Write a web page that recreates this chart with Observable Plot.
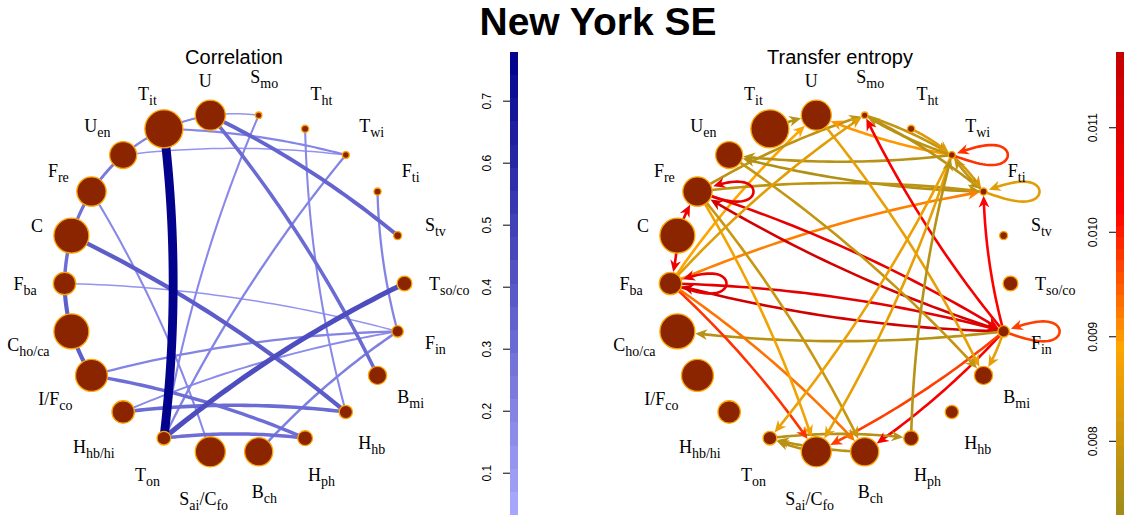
<!DOCTYPE html>
<html><head><meta charset="utf-8">
<script src="https://cdn.jsdelivr.net/npm/d3@7"></script>
<script src="https://cdn.jsdelivr.net/npm/@observablehq/plot@0.6"></script>
<style>
body{margin:0;background:#fff;}
#wrap{position:relative;width:1126px;height:517px;overflow:hidden;background:#fff;font-family:"Liberation Sans",Arial,sans-serif;}
.ttl{position:absolute;text-align:center;white-space:nowrap;line-height:1;color:#000;}
</style></head><body><div id="wrap"></div><script>
// ---------------- data ----------------
const nodeKeys = ["Tso","Stv","Fti","Twi","Tht","Smo","U","Tit","Uen","Fre","C","Fba","Cho","IFco","Hhbhi","Ton","Saifo","Bch","Hph","Hhb","Bmi","Fin"];
const nodeLabels = ["T_{so/co}","S_{tv}","F_{ti}","T_{wi}","T_{ht}","S_{mo}","U","T_{it}","U_{en}","F_{re}","C","F_{ba}","C_{ho/ca}","I/F_{co}","H_{hb/hi}","T_{on}","S_{ai}/C_{fo}","B_{ch}","H_{ph}","H_{hb}","B_{mi}","F_{in}"];
const nodeWeight = [0.39,0.21,0.19,0.18,0.19,0.17,0.79,1.00,0.71,0.77,0.92,0.59,0.92,0.84,0.59,0.36,0.79,0.74,0.39,0.35,0.48,0.30];

// correlation network: [from, to, correlation]
const corrEdges = [
 ["Tit","Ton",0.77],["Tit","U",0.18],["Tit","Twi",0.19],["Uen","Twi",0.13],["U","Smo",0.13],
 ["U","Stv",0.34],["U","Bmi",0.31],["Ton","Smo",0.18],["Hhb","Tht",0.18],["Ton","Twi",0.20],
 ["Fin","Fti",0.20],["Ton","Tso",0.44],["Fba","Fin",0.13],["IFco","Fin",0.20],["Hhbhi","Fin",0.17],
 ["Bch","Fin",0.22],["C","Hhb",0.37],["IFco","Hph",0.30],["Hhbhi","Hhb",0.31],["Ton","Hph",0.30],
 ["Fre","Saifo",0.18],["Uen","Tit",0.20],["Fre","Uen",0.25],["C","Fre",0.28],["Fba","C",0.30],
 ["Cho","Fba",0.36],["IFco","Cho",0.36]
];
// transfer entropy network: [from, to, TE]
const teEdges = [
 ["Tit","U",0.0077],["Fba","U",0.0089],["Twi","U",0.0090],["Fre","Smo",0.0078],["Twi","Smo",0.0078],
 ["Smo","Twi",0.0079],["Tht","Twi",0.0083],["Smo","Fti",0.0077],["Twi","Fti",0.0082],["Fti","Twi",0.0079],
 ["Twi","Uen",0.0077],["Fti","Uen",0.0076],["Fre","Fti",0.0078],["Fba","Fti",0.0092],["Fin","Smo",0.0104],
 ["Fin","Fti",0.0102],["Fin","Fre",0.0113],["Fre","Fin",0.0108],["Fin","Fba",0.0114],["Fba","Fin",0.0109],
 ["Fin","Cho",0.0077],["Fin","Bmi",0.0085],["Fin","Bch",0.0104],["Fin","Saifo",0.0097],["Fba","Saifo",0.0098],
 ["Fba","Bch",0.0093],["Fre","Saifo",0.0087],["Fre","Bch",0.0080],["U","Bmi",0.0085],["Uen","Bmi",0.0079],
 ["Twi","Ton",0.0086],["Twi","Saifo",0.0085],["Hph","Twi",0.0077],["C","Fre",0.0106],["C","Fba",0.0106],
 ["Bch","Ton",0.0077],["Saifo","Ton",0.0077],["Ton","Hph",0.0077],["Fba","Smo",0.0084]
];
const teLoops = [["Twi",0.0098],["Fti",0.0084],["Fre",0.0108],["Fba",0.0108],["Fin",0.0097]];

const corrRange = [0.0318, 0.7785];
const corrTicks = [0.1,0.2,0.3,0.4,0.5,0.6,0.7];
const teRange = [0.00729, 0.01172];
const teTicks = [0.008,0.009,0.010,0.011];

// ---------------- styling / geometry ----------------
const K = 170;          // px per data unit (circle radius)
const RMAX = 19;        // px radius for weight 1
const CURV = 0.06;      // edge curvature
const W = 500, H = 470;
const corrColor = {type:"linear", domain: corrRange, range:["#aaaaff","#00008b"], interpolate:"rgb"};
const teColor = {type:"linear", domain:[teRange[0],0.0089,0.0102,teRange[1]], range:["#9f8b1b","#ffa500","#ff0000","#c40000"], interpolate:"rgb"};

const nodes = nodeKeys.map((key,i)=>{const a=i*2*Math.PI/nodeKeys.length; return {key,label:nodeLabels[i],w:nodeWeight[i],a,x:Math.cos(a),y:Math.sin(a)};});
const byKey = Object.fromEntries(nodes.map(n=>[n.key,n]));
const radPx = n => n.w*RMAX;
const toData = ([sx,sy]) => [sx/K, -sy/K];

function bezier(A,B,n=40){
  const ax=A.x*K, ay=-A.y*K, bx=B.x*K, by=-B.y*K;
  const dx=bx-ax, dy=by-ay;
  const px=(ax+bx)/2+dy*CURV, py=(ay+by)/2-dx*CURV; // bulge left of travel
  const pts=[];
  for(let i=0;i<=n;i++){const t=i/n,u=1-t;pts.push([u*u*ax+2*u*t*px+t*t*bx,u*u*ay+2*u*t*py+t*t*by]);}
  return pts;
}
function cutEnd(pts, center, d){
  const dist=p=>Math.hypot(p[0]-center[0],p[1]-center[1]);
  for(let i=pts.length-2;i>=0;i--){
    if(dist(pts[i])>=d){
      const p=pts[i],q=pts[i+1];const dp=dist(p),dq=dist(q);
      const t=(dp-d)/(dp-dq||1);
      const c=[p[0]+(q[0]-p[0])*t,p[1]+(q[1]-p[1])*t];
      const L=Math.hypot(q[0]-p[0],q[1]-p[1])||1;
      return {pts:[...pts.slice(0,i+1),c],tip:c,dir:[(q[0]-p[0])/L,(q[1]-p[1])/L]};
    }
  }
  return {pts:[pts[0]],tip:pts[0],dir:[1,0]};
}
function loopPts(n, L=56, h=20, m=48){
  const cx=n.x*K, cy=-n.y*K, pts=[];
  for(let i=0;i<=m;i++){const t=i/m;pts.push([cx+L*Math.sin(Math.PI*t), cy+(h/2)*Math.sin(2*Math.PI*t)]);}
  return pts;
}
const arrowSym = {draw(ctx){ctx.moveTo(0,0);ctx.lineTo(5.4,12);ctx.lineTo(0,8.3);ctx.lineTo(-5.4,12);ctx.closePath();}};

// ---------------- derived mark data ----------------
const corrLines = [];
[...corrEdges].sort((a,b)=>a[2]-b[2]).forEach(([f,t,v],k)=>{
  bezier(byKey[f],byKey[t]).forEach(p=>{const [x,y]=toData(p);corrLines.push({id:k,v,x,y});});
});
const teLines=[], teHeads=[];
teEdges.forEach(([f,t,v],k)=>{
  const B=byKey[t], bc=[B.x*K,-B.y*K];
  const pts=bezier(byKey[f],B);
  const head=cutEnd(pts,bc,radPx(B)+0.5);
  const shaft=cutEnd(pts,bc,radPx(B)+6.5);
  shaft.pts.forEach(p=>{const [x,y]=toData(p);teLines.push({id:"e"+k,v,x,y});});
  const [hx,hy]=toData(head.tip);
  teHeads.push({v,x:hx,y:hy,rot:Math.atan2(head.dir[0],-head.dir[1])*180/Math.PI});
});
teLoops.forEach(([key,v],k)=>{
  const n=byKey[key], bc=[n.x*K,-n.y*K];
  const pts=loopPts(n);
  const head=cutEnd(pts,bc,radPx(n)+2);
  const shaft=cutEnd(pts,bc,radPx(n)+8);
  shaft.pts.forEach(p=>{const [x,y]=toData(p);teLines.push({id:"l"+k,v,x,y});});
  const [hx,hy]=toData(head.tip);
  teHeads.push({v,x:hx,y:hy,rot:Math.atan2(head.dir[0],-head.dir[1])*180/Math.PI});
});
const labelPts = nodes.map(n=>{const len=n.label.replace(/[_{}]/g,"").length;const R=(204+1.8*len)/K;return {label:n.label,x:R*Math.cos(n.a),y:R*Math.sin(n.a)};});

// ---------------- plotting ----------------
const wrap=document.getElementById("wrap");
function place(el,left,top){el.style.position="absolute";el.style.left=left+"px";el.style.top=top+"px";wrap.appendChild(el);return el;}
const labelSet=new Set(nodeLabels);
function subscriptify(svg){
  svg.querySelectorAll("text").forEach(el=>{
    const s=el.textContent; if(!labelSet.has(s)) return;
    while(el.firstChild) el.removeChild(el.firstChild);
    const re=/_\{([^}]*)\}/g; let last=0,m,shifted=false;
    const add=(txt,sub)=>{if(!txt)return;const ts=document.createElementNS("http://www.w3.org/2000/svg","tspan");ts.textContent=txt;
      if(sub){ts.setAttribute("font-size","14");ts.setAttribute("dy","5");shifted=true;}
      else if(shifted){ts.setAttribute("dy","-5");shifted=false;}
      el.appendChild(ts);};
    while((m=re.exec(s))){add(s.slice(last,m.index),false);add(m[1],true);last=re.lastIndex;}
    add(s.slice(last),false);
  });
}
function baseOpts(color){
  return {width:W,height:H,margin:0,
    x:{domain:[-W/2/K,W/2/K],axis:null},y:{domain:[-H/2/K,H/2/K],axis:null},
    r:{type:"linear",domain:[0,1],range:[0,RMAX]},color,
    style:{background:"transparent",overflow:"visible"}};
}
const nodeMark=()=>Plot.dot(nodes,{x:"x",y:"y",r:"w",fill:"#8b2500",stroke:"#ffa500",strokeWidth:1.3});
const labelMark=()=>Plot.text(labelPts,{x:"x",y:"y",text:"label",fontFamily:"Liberation Serif",fontSize:18,dy:1,fill:"black"});

const corrSvg=Plot.plot({...baseOpts(corrColor),marks:[
  Plot.line(corrLines,{x:"x",y:"y",z:"id",stroke:"v",strokeWidth:d=>d.v*11.5,strokeLinecap:"butt"}),
  nodeMark(),labelMark()
]});
subscriptify(corrSvg);
place(corrSvg,234-W/2,283-H/2);

const teSvg=Plot.plot({...baseOpts(teColor),marks:[
  Plot.line(teLines,{x:"x",y:"y",z:"id",stroke:"v",strokeWidth:2.6}),
  Plot.dot(teHeads,{x:"x",y:"y",rotate:"rot",fill:"v",symbol:arrowSym}),
  nodeMark(),labelMark()
]});
subscriptify(teSvg);
place(teSvg,840-W/2,283-H/2);

function legend(range,ticks,fmt,color,bands,left){
  const [lo,hi]=range, step=(hi-lo)/bands;
  const cells=d3.range(bands).map(i=>({y1:lo+i*step,y2:lo+(i+1)*step,v:lo+(i+0.5)*step}));
  const svg=Plot.plot({width:60,height:517,marginTop:52,marginBottom:2,marginLeft:50,marginRight:2,
    x:{domain:[0,1],axis:null},y:{domain:[lo,hi],axis:null},color,
    style:{background:"transparent",overflow:"visible"},
    marks:[
      Plot.rect(cells,{x1:0,x2:1,y1:"y1",y2:"y2",fill:"v",shapeRendering:"crispEdges"}),
      Plot.ruleY(ticks,{y:d=>d,x1:-0.875,x2:0,stroke:"black",strokeWidth:1}),
      Plot.text(ticks,{y:d=>d,x:0,dx:-23,rotate:-90,text:d=>fmt(d),fontSize:12,fontFamily:"Liberation Sans",fill:"black"})
    ]});
  place(svg,left,0);
}
legend(corrRange,corrTicks,d3.format(".1f"),corrColor,20,460);
legend(teRange,teTicks,d3.format(".3f"),teColor,40,1066);

function title(text,cx,top,size,weight){
  const d=document.createElement("div");d.className="ttl";d.textContent=text;
  d.style.fontSize=size+"px";d.style.fontWeight=weight;d.style.width="400px";
  place(d,cx-200,top);
}
title("New York SE",598,2,39,"bold");
title("Correlation",234,47,20,"normal");
title("Transfer entropy",840,47,20,"normal");
</script></body></html>
